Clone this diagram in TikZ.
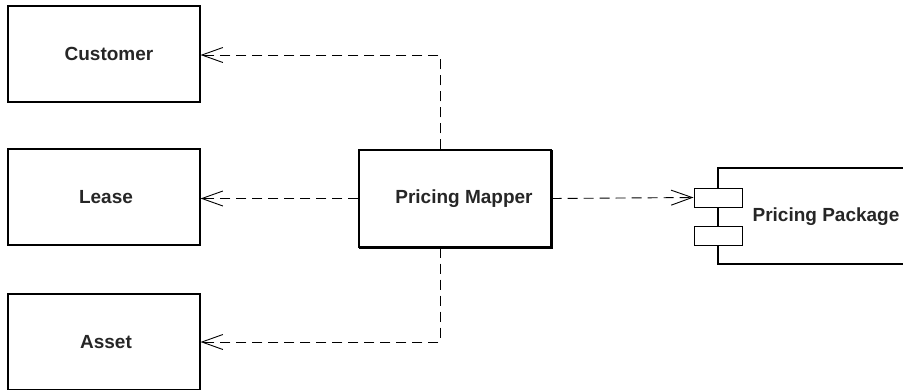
\documentclass[tikz,border=0pt]{standalone}
\usepackage{fontspec}
\setmainfont{Liberation Sans}
\usetikzlibrary{arrows.meta,calc}
\begin{document}
\begin{tikzpicture}[x=1pt,y=-1pt,
  box/.style={draw, line width=1.1pt, minimum width=192pt, minimum height=96pt, inner sep=0pt,
    font=\fontsize{19}{21}\selectfont\bfseries, text=black!85},
  port/.style={draw, line width=1pt, minimum width=48pt, minimum height=19pt, inner sep=0pt, fill=white},
  dep/.style={draw, line width=0.9pt, dash pattern=on 10pt off 6pt,
    -{Straight Barb[length=21pt,width=15pt,line width=0.9pt]}},
  lbl/.style={font=\fontsize{19}{21}\selectfont\bfseries, text=black!85, inner sep=0pt}]
\useasboundingbox (0,0) rectangle (903,389);
\node[box] (cust) at (104,54) {\hspace*{10pt}Customer};
\node[box] (lease) at (104,197) {\hspace*{4pt}Lease};
\node[box] (asset) at (104,342) {\hspace*{4pt}Asset};
\node[box, minimum height=97pt] (map) at (455,198.5) {\hspace*{18pt}Pricing Mapper};
\draw[line width=0.7pt] ($(map.north east)+(1,1)$) -- ($(map.south east)+(1,1)$) -- ($(map.south west)+(1,1)$);
\node[box, minimum width=200pt] (pkg) at (818,216) {};
\node[port] (p1) at (718,197.5) {};
\node[port] (p2) at (718,236) {};
\node[lbl] (pkgl) at (826,217) {Pricing Package};
\coordinate (mt) at ($(map.north)+(-15,0)$);
\coordinate (mb) at ($(map.south)+(-15,0)$);
\draw[dep] (mt) |- ($(cust.east)+(0,1)$);
\draw[dep] (map.west) -- (lease.east |- map.west);
\draw[dep] (mb) |- (asset.east);
\draw[dep] (map.east) -- (p1.west);
\end{tikzpicture}
\end{document}
